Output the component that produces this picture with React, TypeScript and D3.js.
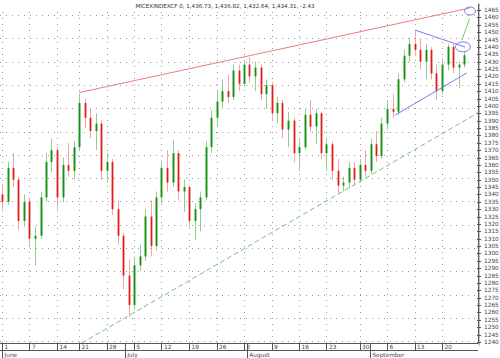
import React from "react";
import * as d3 from "d3";

const title = "MICEXINDEXCF 0, 1,436.73, 1,436.82, 1,432.64, 1,434.31, -2.43";

const opens = [1340,1335,1358,1350,1322,1335,1310,1312,1338,1362,1370,1338,1360,1356,1372,1402,1392,1383,1388,1356,1362,1330,1312,1285,1265,1292,1298,1325,1305,1338,1358,1348,1368,1342,1345,1322,1330,1338,1372,1392,1403,1410,1406,1424,1415,1428,1420,1426,1408,1414,1395,1402,1384,1390,1368,1372,1394,1386,1395,1368,1374,1356,1346,1348,1358,1350,1360,1356,1374,1366,1388,1398,1396,1418,1434,1442,1438,1430,1438,1422,1410,1428,1440,1426,1428];
const highs = [1347,1362,1368,1352,1340,1338,1318,1342,1368,1378,1372,1365,1375,1376,1408,1405,1398,1395,1390,1368,1364,1336,1314,1296,1298,1306,1330,1336,1342,1363,1370,1377,1370,1350,1346,1334,1342,1376,1397,1410,1418,1421,1428,1428,1431,1433,1430,1428,1418,1416,1406,1404,1396,1392,1378,1398,1404,1398,1396,1378,1376,1364,1352,1362,1362,1364,1370,1378,1383,1392,1404,1408,1422,1438,1446,1451,1446,1442,1440,1428,1432,1442,1442,1430,1437];
const lows = [1330,1333,1345,1316,1318,1305,1292,1310,1335,1355,1330,1335,1352,1350,1370,1385,1378,1370,1350,1348,1326,1306,1276,1257,1262,1288,1295,1298,1302,1334,1342,1345,1336,1328,1318,1309,1315,1336,1368,1386,1398,1402,1404,1410,1413,1416,1410,1404,1398,1390,1388,1378,1372,1362,1356,1370,1382,1374,1364,1356,1350,1340,1342,1344,1346,1348,1352,1354,1362,1364,1384,1392,1394,1416,1430,1434,1425,1418,1418,1404,1408,1424,1422,1412,1426];
const closes = [1335,1358,1350,1322,1335,1310,1312,1338,1362,1370,1338,1360,1356,1372,1402,1392,1383,1388,1356,1362,1330,1312,1285,1265,1292,1298,1325,1305,1338,1358,1348,1368,1342,1345,1322,1330,1338,1372,1392,1403,1410,1406,1424,1415,1428,1420,1426,1408,1414,1395,1402,1384,1390,1368,1372,1394,1386,1395,1368,1374,1356,1346,1348,1358,1350,1360,1356,1374,1366,1388,1398,1396,1418,1434,1442,1438,1430,1438,1422,1410,1428,1440,1426,1428,1434.31];

const dayTickIdx = [0,5,10,14,19,24,29,34,39,44,49,54,59,65,70,75,80];
const dayTickLabels = ["1","7","14","21","28","5","12","19","26","2","9","16","23","30","6","13","20"];
const monthIdx = [0,22.3,44.5,66.9];
const monthLabels = ["June","July","August","September"];

// trend lines in (bar index, value)
const redLine = [[14,1409],[85.1,1466.4]];
const blueUpper = [[75.1,1451.4],[84.2,1439.9]];
const blueLower = [[71.5,1393.8],[84.5,1422.3]];
const greenDash = [[14.5,1239.3],[86.5,1395.2]];
const greenArrow = [[83.6,1444.5],[85.0,1459]];
const blueEllipse = [83.8,1440];
const topEllipse = [85.1,1464.3];

export default function App() {
  const W = 500, H = 358;
  const axisX = 478;
  const plotBottom = 343;
  const x = d3.scaleLinear().domain([0, 84]).range([2, 464]);
  const y = d3.scaleLinear().domain([1240, 1465]).range([342, 10]);
  const yTicks = d3.range(1240, 1466, 5);
  const yMinor = d3.range(1238, 1470, 1);
  const gridRows = d3.range(15, plotBottom, 23.3);
  const line = d3.line<number[]>().x(d => x(d[0])).y(d => y(d[1]));
  const font = "'DejaVu Sans', sans-serif";

  return (
    <svg width={W} height={H} style={{ position: "absolute", left: 0, top: 0, background: "#fff" }}>
      <defs>
        <clipPath id="plot"><rect x={0} y={0} width={axisX} height={plotBottom} /></clipPath>
      </defs>
      {/* grid */}
      <g stroke="#9a9a9a" strokeWidth={1} strokeDasharray="1,5">
        {gridRows.map((gy, i) => (
          <line key={"h" + i} x1={0} x2={axisX} y1={Math.round(gy) + 0.5} y2={Math.round(gy) + 0.5} />
        ))}
        {dayTickIdx.map((d, i) => (
          <line key={"v" + i} x1={Math.round(x(d)) + 0.5} x2={Math.round(x(d)) + 0.5} y1={12} y2={plotBottom} />
        ))}
      </g>
      <text x={225} y={8} fontSize={5.6} fontFamily={font} fill="#333" textAnchor="middle">{title}</text>
      {/* candles */}
      <g clipPath="url(#plot)">
        {closes.map((c, i) => {
          const o = opens[i];
          const up = c >= o;
          const cx = Math.round(x(i)) + 0.5;
          const top = y(Math.max(o, c));
          const bot = y(Math.min(o, c));
          return (
            <g key={i}>
              <line x1={cx} x2={cx} y1={y(highs[i])} y2={y(lows[i])} stroke={up ? "#8fd08f" : "#f4a3a3"} strokeWidth={1} />
              <rect x={cx - 1.5} y={top} width={3} height={Math.max(1, bot - top)} fill={up ? "#8fd08f" : "#f4a3a3"} />
              <line x1={cx} x2={cx} y1={top} y2={top + Math.max(1, bot - top)} stroke={up ? "#1c8c1c" : "#e41b1b"} strokeWidth={1} />
            </g>
          );
        })}
      </g>
      {/* drawings */}
      <path d={line(redLine as any) || ""} stroke="#f07c7c" strokeWidth={1} fill="none" />
      <path d={line(blueUpper as any) || ""} stroke="#7b7bf0" strokeWidth={1} fill="none" />
      <path d={line(blueLower as any) || ""} stroke="#7b7bf0" strokeWidth={1} fill="none" />
      <path d={line(greenDash as any) || ""} stroke="#74c474" strokeWidth={1} strokeDasharray="5,3" fill="none" clipPath="url(#plot)" />
      <path d={line(greenArrow as any) || ""} stroke="#74c474" strokeWidth={1} fill="none" />
      <ellipse cx={x(blueEllipse[0])} cy={y(blueEllipse[1])} rx={7.5} ry={5} stroke="#7b7bf0" strokeWidth={1} fill="none" />
      <ellipse cx={x(topEllipse[0])} cy={y(topEllipse[1])} rx={5.5} ry={4} stroke="#7b7bf0" strokeWidth={1} fill="none" />
      {/* y axis */}
      <line x1={axisX + 0.5} x2={axisX + 0.5} y1={4} y2={plotBottom} stroke="#555" />
      <g stroke="#666" strokeWidth={0.6}>
        {yMinor.map(v => (
          <line key={v} x1={axisX} x2={axisX + 2} y1={y(v)} y2={y(v)} />
        ))}
      </g>
      <g stroke="#555" strokeWidth={1}>
        {yTicks.map(v => (
          <line key={v} x1={axisX - 1} x2={axisX + 3} y1={Math.round(y(v)) + 0.5} y2={Math.round(y(v)) + 0.5} />
        ))}
      </g>
      {yTicks.map(v => (
        <text key={v} x={484} y={y(v) + 2} fontSize={5.8} fontFamily={font} fill="#444">{v}</text>
      ))}
      {/* x axis */}
      <line x1={0} x2={axisX} y1={plotBottom + 0.5} y2={plotBottom + 0.5} stroke="#555" />
      <line x1={0} x2={axisX} y1={350.5} y2={350.5} stroke="#555" />
      {dayTickIdx.map((d, i) => (
        <g key={i}>
          <line x1={Math.round(x(d)) + 0.5} x2={Math.round(x(d)) + 0.5} y1={plotBottom} y2={350} stroke="#555" />
          <text x={x(d) + 2.5} y={349} fontSize={5.8} fontFamily={font} fill="#444">{dayTickLabels[i]}</text>
        </g>
      ))}
      {monthIdx.map((m, i) => (
        <g key={"m" + i}>
          <line x1={Math.round(x(m)) + 0.5} x2={Math.round(x(m)) + 0.5} y1={plotBottom} y2={358} stroke="#555" />
          <text x={x(m) + 2.5} y={356.5} fontSize={5.8} fontFamily={font} fill="#444">{monthLabels[i]}</text>
        </g>
      ))}
    </svg>
  );
}
